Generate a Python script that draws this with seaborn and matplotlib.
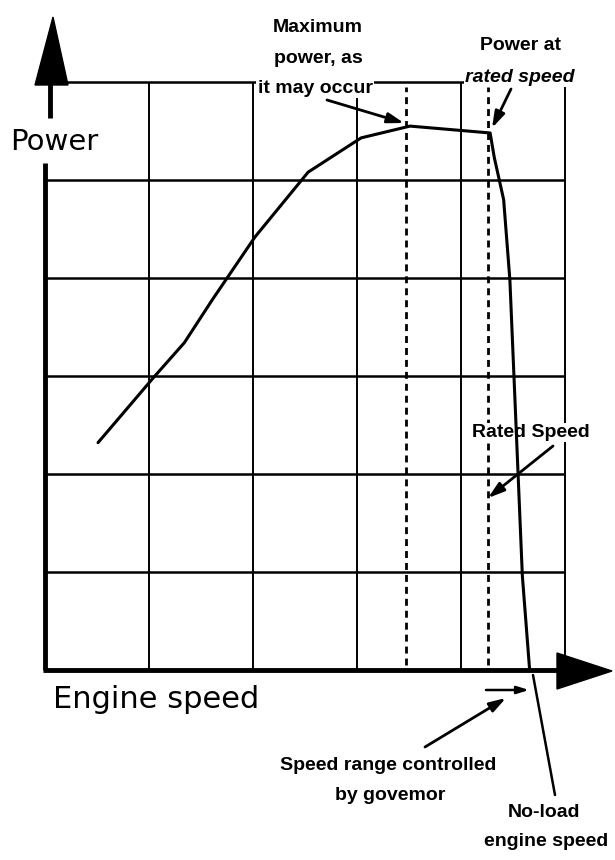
import numpy as np
import seaborn as sns
import matplotlib.pyplot as plt
from matplotlib.patches import Polygon

# power curve (grid units: one cell = 1)
speed = [0.51, 1.04, 1.34, 1.61, 2.02, 2.53, 3.04, 3.51, 4.28, 4.32, 4.41, 4.47, 4.51, 4.55, 4.59, 4.66]
power = [2.32, 2.98, 3.34, 3.78, 4.42, 5.08, 5.43, 5.55, 5.48, 5.23, 4.80, 3.98, 2.98, 1.97, 0.96, 0.0]

grid_speed = [1, 2, 3, 4, 5]
grid_power = [1, 2, 3, 4, 5, 6]
marker_speed = [3.47, 4.26]   # max power, rated speed

# picture layout: pixel -> grid units
X0, XS, Y0, YS = 45, 104, 670, 98
W, H = 615, 860


def px(x, y):
    return ((x - X0) / XS, (Y0 - y) / YS)


sns.set_theme(style="white")
plt.rcParams['font.family'] = ['Liberation Sans', 'DejaVu Sans']
plt.rcParams['text.color'] = 'black'

fig = plt.figure(figsize=(W / 100, H / 100), dpi=100)
ax = fig.add_axes([0, 0, 1, 1])
ax.set_xlim(px(0, 0)[0], px(W, 0)[0])
ax.set_ylim(px(0, H)[1], px(0, 0)[1])
ax.axis("off")

# grid
ax.hlines(grid_power, 0, grid_speed[-1], color="black", lw=1.8, zorder=1)
ax.vlines(grid_speed, 0, grid_power[-1], color="black", lw=1.4, zorder=1)
ax.vlines(marker_speed, 0.05, grid_power[-1] - 0.05, color="black", lw=2,
          linestyles=(0, (2.5, 1.8)), zorder=1)

# axes
ax.plot([0, 0], [0, px(0, 163)[1]], color="black", lw=3.5, solid_capstyle="butt")
ax.plot([0.05, 0.05], [px(0, 118)[1], px(0, 80)[1]], color="black", lw=3.5, solid_capstyle="butt")
ax.plot([-0.02, px(560, 0)[0]], [0, 0], color="black", lw=3.5, solid_capstyle="butt")
ax.add_patch(Polygon([px(35, 85), px(53, 17), px(68, 85)], closed=True, color="black"))
ax.add_patch(Polygon([px(557, 653), px(612, 671), px(557, 689)], closed=True, color="black"))

# power curve
sns.lineplot(x=speed, y=power, sort=False, color="black", lw=2.2, ax=ax, zorder=4)

# axis titles
ax.text(*px(10, 142), "Power", fontsize=21, family="DejaVu Sans", color="black",
        ha="left", va="center")
ax.text(*px(53, 708), "Engine speed", fontsize=22, family="DejaVu Sans", color="black",
        ha="left", va="baseline")

bold = dict(fontsize=14, fontweight="bold", color="black", ha="center", va="baseline")
white = dict(facecolor="white", edgecolor="none", pad=1)
arrow = dict(arrowstyle="-|>,head_length=0.7,head_width=0.22", color="black", lw=2,
             shrinkA=0, shrinkB=0, mutation_scale=14)

ax.text(*px(318, 32), "Maximum", **bold)
ax.text(*px(318, 63), "power, as", **bold)
ax.text(*px(315, 93), "it may occur", bbox=white, **bold)
ax.annotate("", xy=px(404, 123), xytext=px(327, 100), arrowprops=arrow)

ax.text(*px(520, 50), "Power at", **bold)
ax.text(*px(520, 82), "rated speed", style="italic", bbox=white, **bold)
ax.annotate("", xy=px(492, 128), xytext=px(511, 89), arrowprops=arrow)

ax.text(*px(531, 437), "Rated Speed", bbox=white, **bold)
ax.annotate("", xy=px(488, 498), xytext=px(553, 446), arrowprops=arrow)

ax.annotate("", xy=px(529, 690), xytext=px(486, 690),
            arrowprops=dict(arrow, lw=1.8, mutation_scale=10))
ax.annotate("", xy=px(506, 698), xytext=px(425, 747), arrowprops=arrow)
ax.text(*px(388, 770), "Speed range controlled", **bold)
ax.text(*px(390, 800), "by govemor", **bold)

ax.plot(*zip(px(533, 675), px(555, 795)), color="black", lw=1.8)
ax.text(*px(544, 817), "No-load", **bold)
ax.text(*px(546, 846), "engine speed", **bold)

fig.savefig("out.png", dpi=100)
